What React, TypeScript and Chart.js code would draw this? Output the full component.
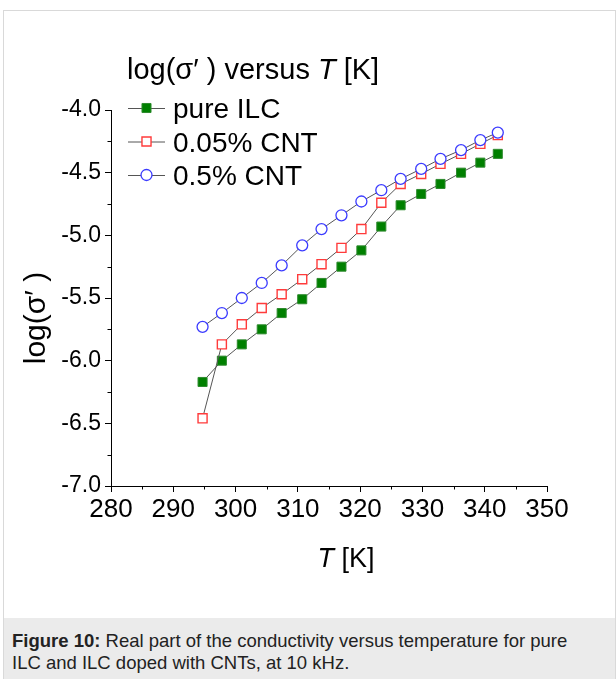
import React, { useEffect, useRef } from 'react';
import { Chart, registerables } from 'chart.js';

Chart.register(...registerables);

const temperatures = [294.7, 297.8, 301.0, 304.2, 307.4, 310.7, 313.8, 317.0, 320.2, 323.4, 326.5, 329.8, 332.9, 336.2, 339.3, 342.1];
const pureILC = [-6.17, -6.0, -5.87, -5.75, -5.62, -5.51, -5.38, -5.25, -5.12, -4.93, -4.76, -4.67, -4.59, -4.5, -4.42, -4.35];
const cnt005 = [-6.46, -5.87, -5.71, -5.58, -5.47, -5.35, -5.23, -5.1, -4.95, -4.74, -4.59, -4.51, -4.43, -4.35, -4.27, -4.2];
const cnt05 = [-5.73, -5.62, -5.5, -5.38, -5.24, -5.08, -4.95, -4.84, -4.73, -4.64, -4.55, -4.47, -4.39, -4.32, -4.24, -4.18];

const seriesNames = ['pure ILC', '0.05% CNT', '0.5% CNT'];
const xTicks = [280, 290, 300, 310, 320, 330, 340, 350];
const xMinorTicks = [285, 295, 305, 315, 325, 335, 345];
const yTicks = [-4.0, -4.5, -5.0, -5.5, -6.0, -6.5, -7.0];
const yMinorTicks = [-4.25, -4.75, -5.25, -5.75, -6.25, -6.75];

const FONT = '"Liberation Sans", Arial, Helvetica, sans-serif';

const styles = [
  { shape: 'rect', radius: 6.4, fill: '#008000', stroke: '#2e8b2e', width: 1 },
  { shape: 'rect', radius: 6.4, fill: '#ffffff', stroke: '#ff3b3b', width: 1.4 },
  { shape: 'circle', radius: 5.5, fill: '#ffffff', stroke: '#3b3bff', width: 1.3 },
];

function drawMarker(ctx: CanvasRenderingContext2D, s: any, x: number, y: number) {
  ctx.save();
  ctx.fillStyle = s.fill;
  ctx.strokeStyle = s.stroke;
  ctx.lineWidth = s.width;
  ctx.beginPath();
  if (s.shape === 'rect') {
    const h = s.radius * Math.SQRT1_2;
    ctx.rect(x - h, y - h, 2 * h, 2 * h);
  } else {
    ctx.arc(x, y, s.radius, 0, Math.PI * 2);
  }
  ctx.fill();
  ctx.stroke();
  ctx.restore();
}

const overlayPlugin = {
  id: 'overlay',
  afterDraw(chart: any) {
    const ctx: CanvasRenderingContext2D = chart.ctx;
    const xs = chart.scales.x;
    const ys = chart.scales.y;
    const { left, bottom } = chart.chartArea;
    ctx.save();
    ctx.strokeStyle = '#000';
    ctx.lineWidth = 1;
    xMinorTicks.forEach((v) => {
      const p = Math.round(xs.getPixelForValue(v)) + 0.5;
      ctx.beginPath();
      ctx.moveTo(p, bottom);
      ctx.lineTo(p, bottom + 3.5);
      ctx.stroke();
    });
    yMinorTicks.forEach((v) => {
      const p = Math.round(ys.getPixelForValue(v)) + 0.5;
      ctx.beginPath();
      ctx.moveTo(left, p);
      ctx.lineTo(left - 3.5, p);
      ctx.stroke();
    });

    // legend title
    ctx.fillStyle = '#000';
    ctx.textBaseline = 'alphabetic';
    ctx.textAlign = 'left';
    const tx = 127;
    const ty = 79;
    const tf = 29;
    ctx.font = `${tf}px ${FONT}`;
    const part1 = 'log(σ′ ) versus ';
    ctx.fillText(part1, tx, ty);
    let w = ctx.measureText(part1).width;
    ctx.font = `italic ${tf}px ${FONT}`;
    ctx.fillText('T', tx + w, ty);
    w += ctx.measureText('T').width;
    ctx.font = `${tf}px ${FONT}`;
    ctx.fillText(' [K]', tx + w, ty);

    // legend rows
    const rowY = [108, 141.5, 175];
    seriesNames.forEach((name, i) => {
      const y = rowY[i];
      ctx.strokeStyle = '#555';
      ctx.lineWidth = 1;
      ctx.beginPath();
      ctx.moveTo(128, y + 0.5);
      ctx.lineTo(165, y + 0.5);
      ctx.stroke();
      drawMarker(ctx, styles[i], 146.5, y);
      ctx.fillStyle = '#000';
      ctx.font = `28px ${FONT}`;
      ctx.fillText(name, 173, y + 10);
    });

    // x axis title
    ctx.font = `italic 27px ${FONT}`;
    const wT = ctx.measureText('T').width;
    ctx.font = `27px ${FONT}`;
    const wRest = ctx.measureText(' [K]').width;
    const cx = 346;
    const bx = cx - (wT + wRest) / 2;
    const by = 567;
    ctx.font = `italic 27px ${FONT}`;
    ctx.fillText('T', bx, by);
    ctx.font = `27px ${FONT}`;
    ctx.fillText(' [K]', bx + wT, by);

    // y axis title
    ctx.save();
    ctx.translate(37, 318);
    ctx.rotate(-Math.PI / 2);
    ctx.textAlign = 'center';
    ctx.textBaseline = 'middle';
    ctx.font = `30px ${FONT}`;
    ctx.fillText('log(σ′ )', 0, 0);
    ctx.restore();

    ctx.restore();
  },
};

function ChartCanvas() {
  const ref = useRef<HTMLCanvasElement>(null);
  useEffect(() => {
    if (!ref.current) return;
    const seriesValues = [pureILC, cnt005, cnt05];
    const chart = new Chart(ref.current, {
      type: 'scatter',
      data: {
        datasets: seriesValues.map((vals, i) => ({
          label: seriesNames[i],
          data: temperatures.map((t, k) => ({ x: t, y: vals[k] })),
          showLine: true,
          borderColor: '#555',
          borderWidth: 1,
          tension: 0,
          pointStyle: styles[i].shape as any,
          pointRadius: styles[i].radius,
          pointBackgroundColor: styles[i].fill,
          pointBorderColor: styles[i].stroke,
          pointBorderWidth: styles[i].width,
          order: 2 - i,
        })),
      },
      options: {
        animation: false,
        responsive: false,
        maintainAspectRatio: false,
        layout: { padding: { left: 0, top: 110, right: 69, bottom: 0 } },
        plugins: { legend: { display: false }, tooltip: { enabled: false } },
        scales: {
          x: {
            type: 'linear',
            min: 280,
            max: 350,
            afterBuildTicks: (scale: any) => {
              scale.ticks = xTicks.map((v) => ({ value: v }));
            },
            afterFit: (scale: any) => {
              scale.height = 132;
            },
            ticks: {
              color: '#000',
              font: { family: FONT, size: 26 },
              padding: 2,
              maxRotation: 0,
              autoSkip: false,
              callback: (v: any) => String(v),
            },
            grid: { drawOnChartArea: false, drawTicks: true, tickLength: 6, tickColor: '#000', color: '#000' },
            border: { color: '#000', width: 1 },
          },
          y: {
            type: 'linear',
            min: -7,
            max: -4,
            afterBuildTicks: (scale: any) => {
              scale.ticks = yTicks.map((v) => ({ value: v }));
            },
            afterFit: (scale: any) => {
              scale.width = 111;
            },
            ticks: {
              color: '#000',
              font: { family: FONT, size: 23 },
              padding: 4,
              autoSkip: false,
              callback: (v: any) => Number(v).toFixed(1),
            },
            grid: { drawOnChartArea: false, drawTicks: true, tickLength: 6, tickColor: '#000', color: '#000' },
            border: { color: '#000', width: 1 },
          },
        },
      },
      plugins: [overlayPlugin],
    } as any);
    return () => chart.destroy();
  }, []);
  return (
    <canvas
      ref={ref}
      width={616}
      height={618}
      style={{ position: 'absolute', left: 0, top: 0, width: 616, height: 618 }}
    />
  );
}

export default function App() {
  return (
    <div style={{ position: 'absolute', left: 0, top: 0, width: 616, height: 679, overflow: 'hidden', background: '#fff' }}>
      <div
        style={{
          position: 'absolute',
          left: 3,
          top: 10,
          width: 613,
          height: 669,
          boxSizing: 'border-box',
          border: '1px solid #d9d9d9',
          borderBottom: 'none',
        }}
      />
      <div
        style={{
          position: 'absolute',
          left: 4,
          top: 618,
          width: 611,
          height: 61,
          background: '#ebebeb',
          boxSizing: 'border-box',
          padding: '12px 0 0 8px',
          fontFamily: FONT,
          fontSize: 18.5,
          lineHeight: '22px',
          color: '#222',
          whiteSpace: 'nowrap',
        }}
      >
        <b>Figure 10:</b> Real part of the conductivity versus temperature for pure
        <br />
        ILC and ILC doped with CNTs, at 10 kHz.
      </div>
      <ChartCanvas />
    </div>
  );
}
